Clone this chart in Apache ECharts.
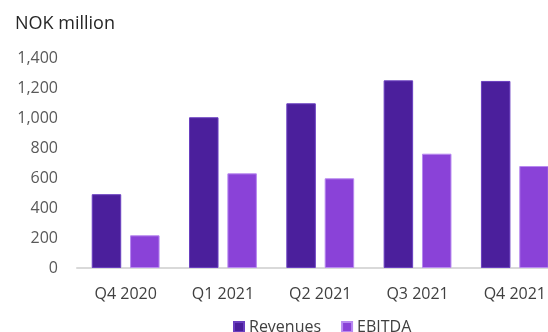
<!DOCTYPE html>
<html><head><meta charset="utf-8">
<script src="https://cdn.jsdelivr.net/npm/echarts@6/dist/echarts.min.js"></script>
<style>html,body{margin:0;padding:0;background:#fff;overflow:hidden;width:548px;height:332px}#c{width:564px;height:332px}</style>
</head><body><div id="c"></div>
<script>
const categories = ['Q4 2020','Q1 2021','Q2 2021','Q3 2021','Q4 2021'];
const revenues = [492, 1005, 1098, 1251, 1247];
const ebitda = [218, 631, 598, 762, 680];
const yTicks = [0, 200, 400, 600, 800, 1000, 1200, 1400];
const font = '"Open Sans", "Noto Sans", sans-serif';
const chart = echarts.init(document.getElementById('c'), null, {renderer:'canvas'});
chart.setOption({
  animation: false,
  textStyle: {fontFamily: font},
  title: {text: 'NOK million', left: 10, top: 10, textStyle: {fontFamily: font, fontSize: 18, fontWeight: 'normal', color: '#262626'}},
  grid: {left: 77, right: 0.5, top: 58, height: 210, containLabel: false},
  legend: {left: 228, top: 314, itemWidth: 10, itemHeight: 10, itemGap: 20, icon: 'rect',
    textStyle: {fontFamily: font, fontSize: 16, color: '#404040'}},
  xAxis: {type: 'category', data: categories,
    axisLine: {lineStyle: {color: '#d9d9d9', width: 2}}, axisTick: {show: false},
    axisLabel: {fontFamily: font, fontSize: 16, color: '#404040', margin: 18}},
  yAxis: {type: 'value', min: yTicks[0], max: yTicks[yTicks.length-1], interval: 200,
    splitLine: {show: false}, axisLine: {show: false}, axisTick: {show: false},
    axisLabel: {fontFamily: font, fontSize: 16, color: '#595959', margin: 19,
      formatter: v => v.toLocaleString('en-US')}},
  series: [
    {name: 'Revenues', type: 'bar', data: revenues, barWidth: 29.5, barGap: '30%',
      itemStyle: {color: '#4b1f9c', borderColor: '#6a3fc0', borderWidth: 1}},
    {name: 'EBITDA', type: 'bar', data: ebitda, barWidth: 29.5,
      itemStyle: {color: '#8a42d8', borderColor: '#b889f0', borderWidth: 1}}
  ]
});
</script></body></html>
